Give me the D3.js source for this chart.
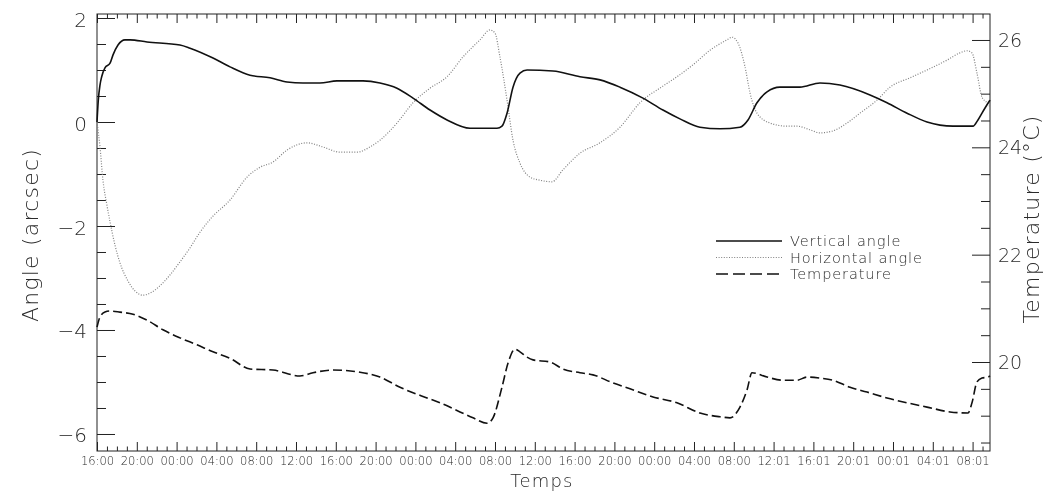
<!DOCTYPE html>
<html>
<head>
<meta charset="utf-8">
<script src="https://cdn.jsdelivr.net/npm/d3@7"></script>
<style>
  html, body { margin: 0; padding: 0; background: #fff; }
  svg { display: block; will-change: transform; }
  text { font-family: "DejaVu Sans", sans-serif; font-weight: 200; fill: #2a2a2a; }
</style>
</head>
<body>
<svg id="chart" width="1048" height="492"></svg>
<script>
// ---------- DATA (hours since 16:00 on the first day) ----------
const verticalT = [0,0.13,0.3,0.47,0.8,1.31,1.61,2.11,2.81,3.32,5.03,8.34,9.35,11.66,13.37,15.38,17.39,19.1,20.7,22.41,24.12,26.73,28.44,30.15,31.76,33.47,35.18,37.49,40.2,40.7,41.21,41.81,42.51,43.22,45.83,48.54,50.55,52.56,54.87,56.88,58.59,60.6,62.61,64.62,65.43,66.33,67.34,68.64,70.65,72.66,74.67,77.69,79.4,81.41,83.42,86.03,88.04,88.54,89.25,89.75];
const verticalAngle = [0,0.42,0.71,0.87,1.04,1.13,1.29,1.48,1.58,1.58,1.54,1.48,1.42,1.23,1.06,0.90,0.85,0.77,0.75,0.75,0.79,0.79,0.75,0.65,0.46,0.23,0.04,-0.12,-0.12,-0.08,0.17,0.67,0.94,1.0,0.98,0.87,0.81,0.67,0.46,0.23,0.06,-0.10,-0.13,-0.10,0.04,0.37,0.58,0.67,0.67,0.75,0.71,0.52,0.37,0.17,0.0,-0.08,-0.08,0.04,0.27,0.42];

const horizontalT = [0,0.3,0.6,1.0,1.31,1.81,2.31,3.12,3.82,4.62,5.53,6.33,7.34,8.34,9.35,10.35,11.56,13.37,15.08,16.38,17.69,19.1,21.11,22.71,24.42,26.13,27.44,28.44,30.15,31.76,33.47,35.18,36.78,38.49,39.5,40.0,40.5,41.21,41.81,42.51,43.52,44.52,45.73,46.83,48.54,50.55,52.56,54.57,56.88,58.29,59.9,61.61,63.32,63.82,64.42,65.13,65.63,66.33,67.64,69.35,70.35,71.66,72.66,73.97,75.38,76.68,78.39,79.7,81.71,83.42,85.43,86.73,87.44,87.94,88.44,88.94,89.45,89.75];
const horizontalAngle = [0,-0.48,-1.12,-1.6,-1.92,-2.37,-2.71,-3.06,-3.25,-3.33,-3.27,-3.15,-2.94,-2.69,-2.42,-2.12,-1.83,-1.5,-1.06,-0.87,-0.77,-0.54,-0.40,-0.48,-0.58,-0.58,-0.48,-0.35,-0.02,0.37,0.65,0.87,1.25,1.58,1.77,1.71,1.25,0.42,-0.35,-0.79,-1.06,-1.12,-1.15,-0.92,-0.60,-0.40,-0.10,0.37,0.69,0.87,1.10,1.38,1.58,1.63,1.52,1.06,0.56,0.17,-0.02,-0.08,-0.08,-0.15,-0.21,-0.17,-0.02,0.17,0.42,0.67,0.85,1.0,1.19,1.33,1.37,1.33,0.94,0.48,0.37,0.29];

const temperatureT = [0,0.3,0.8,1.31,2.31,3.62,5.03,6.63,8.34,10.05,11.66,13.37,15.38,17.69,20.4,21.71,23.72,26.43,28.44,30.45,33.17,34.47,36.48,37.79,39.2,39.8,40.7,41.31,42.01,42.51,43.22,43.82,45.53,46.83,48.54,49.85,51.86,53.57,55.88,58.29,60.6,62.61,63.62,64.62,65.33,65.83,67.34,68.94,70.35,71.36,72.66,73.97,75.68,77.39,79.4,81.41,83.42,85.73,87.54,87.94,88.44,88.94,89.55,89.75];
const temperature = [20.65,20.84,20.93,20.95,20.93,20.89,20.78,20.60,20.45,20.32,20.19,20.07,19.87,19.85,19.74,19.80,19.85,19.81,19.72,19.53,19.33,19.24,19.07,18.96,18.86,18.96,19.53,19.98,20.24,20.19,20.09,20.04,20.0,19.87,19.80,19.76,19.61,19.50,19.35,19.24,19.05,18.98,18.96,19.16,19.48,19.80,19.72,19.66,19.66,19.72,19.70,19.66,19.53,19.44,19.33,19.24,19.16,19.07,19.05,19.24,19.63,19.70,19.72,19.74];

const timeTickLabels = ["16:00","20:00","00:00","04:00","08:00","12:00","16:00","20:00","00:00","04:00","08:00","12:00","16:00","20:00","00:00","04:00","08:00","12:01","16:01","20:01","00:01","04:01","08:01"];
const angleTicks = [-6,-4,-2,0,2];
const tempTicks = [20,22,24,26];
const legendLabels = ["Vertical angle","Horizontal angle","Temperature"];

// ---------- LAYOUT ----------
const L = 97, R = 990, T = 14, B = 451;
const svg = d3.select("#chart");

const x = d3.scaleLinear().domain([0, 89.75]).range([L, R]);
const yL = d3.scaleLinear().domain([-6.327, 2.077]).range([B, T]);
const yR = d3.scaleLinear().domain([18.342, 26.484]).range([B, T]);

const majorX = timeTickLabels.map((d, i) => i * 4);
const minorX = d3.range(0, 90, 1).filter(h => h % 4 !== 0);
const minorL = d3.range(-6, 2.01, 0.5).filter(v => Math.abs(v % 2) > 1e-6);
const minorR = d3.range(18.5, 26.01, 0.5).filter(v => Math.abs(v % 2) > 1e-6);

function styleAxis(g) {
  g.select(".domain").remove();
  g.selectAll(".tick line").attr("stroke", "#222").attr("stroke-width", 1);
}

// bottom axis
svg.append("g").attr("transform", `translate(0,${B})`)
  .call(d3.axisBottom(x).tickValues(majorX).tickSize(-9).tickPadding(6)
    .tickFormat((d, i) => timeTickLabels[i]))
  .call(styleAxis)
  .call(g => g.selectAll("text").attr("font-size", 11.5).style("font-family", "DejaVu Sans").style("fill", "#2a2a2a"));
svg.append("g").attr("transform", `translate(0,${B})`)
  .call(d3.axisBottom(x).tickValues(minorX).tickSize(-4.5).tickFormat(""))
  .call(styleAxis);
// top axis
svg.append("g").attr("transform", `translate(0,${T})`)
  .call(d3.axisTop(x).tickValues(majorX).tickSize(-9).tickFormat(""))
  .call(styleAxis);
svg.append("g").attr("transform", `translate(0,${T})`)
  .call(d3.axisTop(x).tickValues(minorX).tickSize(-4.5).tickFormat(""))
  .call(styleAxis);

// left axis
svg.append("g").attr("transform", `translate(${L},0)`)
  .call(d3.axisLeft(yL).tickValues(angleTicks).tickSize(-18).tickPadding(10)
    .tickFormat(d => d < 0 ? "\u2212" + Math.abs(d) : String(d)))
  .call(styleAxis)
  .call(g => g.selectAll("text").attr("font-size", 20).attr("dy", "0.4em"));
svg.append("g").attr("transform", `translate(${L},0)`)
  .call(d3.axisLeft(yL).tickValues(minorL).tickSize(-9).tickFormat(""))
  .call(styleAxis);

// right axis
svg.append("g").attr("transform", `translate(${R},0)`)
  .call(d3.axisRight(yR).tickValues(tempTicks).tickSize(-18).tickPadding(8))
  .call(styleAxis)
  .call(g => g.selectAll("text").attr("font-size", 19).attr("dy", "0.35em"));
svg.append("g").attr("transform", `translate(${R},0)`)
  .call(d3.axisRight(yR).tickValues(minorR).tickSize(-9).tickFormat(""))
  .call(styleAxis);

// frame
svg.append("rect").attr("x", L).attr("y", T).attr("width", R - L).attr("height", B - T)
  .attr("fill", "none").attr("stroke", "#222").attr("stroke-width", 1);

// ---------- SERIES ----------
const curve = d3.curveMonotoneX;
const lineV = d3.line().x((d, i) => x(verticalT[i])).y(d => yL(d)).curve(curve);
const lineH = d3.line().x((d, i) => x(horizontalT[i])).y(d => yL(d)).curve(curve);
const lineT = d3.line().x((d, i) => x(temperatureT[i])).y(d => yR(d)).curve(curve);

svg.append("path").attr("d", lineH(horizontalAngle)).attr("fill", "none")
  .attr("stroke", "#808080").attr("stroke-width", 1.2).attr("stroke-dasharray", "1,1.6");
svg.append("path").attr("d", lineV(verticalAngle)).attr("fill", "none")
  .attr("stroke", "#111").attr("stroke-width", 1.6);
svg.append("path").attr("d", lineT(temperature)).attr("fill", "none")
  .attr("stroke", "#111").attr("stroke-width", 1.6).attr("stroke-dasharray", "9,4");

// ---------- LEGEND ----------
const legendStyles = [
  { stroke: "#111", dash: null, w: 1.3 },
  { stroke: "#808080", dash: "1,1.6", w: 1.2 },
  { stroke: "#111", dash: "12,5", w: 1.3 }
];
const lg = svg.append("g");
legendLabels.forEach((lab, i) => {
  const yy = 241 + i * 16.5;
  lg.append("line").attr("x1", 716).attr("x2", 782).attr("y1", yy).attr("y2", yy)
    .attr("stroke", legendStyles[i].stroke).attr("stroke-width", legendStyles[i].w)
    .attr("stroke-dasharray", legendStyles[i].dash);
  lg.append("text").attr("x", 790).attr("y", yy).attr("dy", "0.36em")
    .attr("font-size", 14.5).attr("letter-spacing", 0.9).text(lab);
});

// ---------- AXIS TITLES ----------
svg.append("text").attr("transform", "translate(30,235) rotate(-90)")
  .attr("text-anchor", "middle").attr("dy", "0.35em").attr("font-size", 22)
  .attr("letter-spacing", 1.2).text("Angle (arcsec)");
svg.append("text").attr("transform", "translate(1031,219) rotate(-90)")
  .attr("text-anchor", "middle").attr("dy", "0.35em").attr("font-size", 22)
  .attr("letter-spacing", 1.2).text("Temperature (°C)");
svg.append("text").attr("x", 542).attr("y", 487)
  .attr("text-anchor", "middle").attr("font-size", 18)
  .attr("letter-spacing", 1.2).text("Temps");
</script>
</body>
</html>
